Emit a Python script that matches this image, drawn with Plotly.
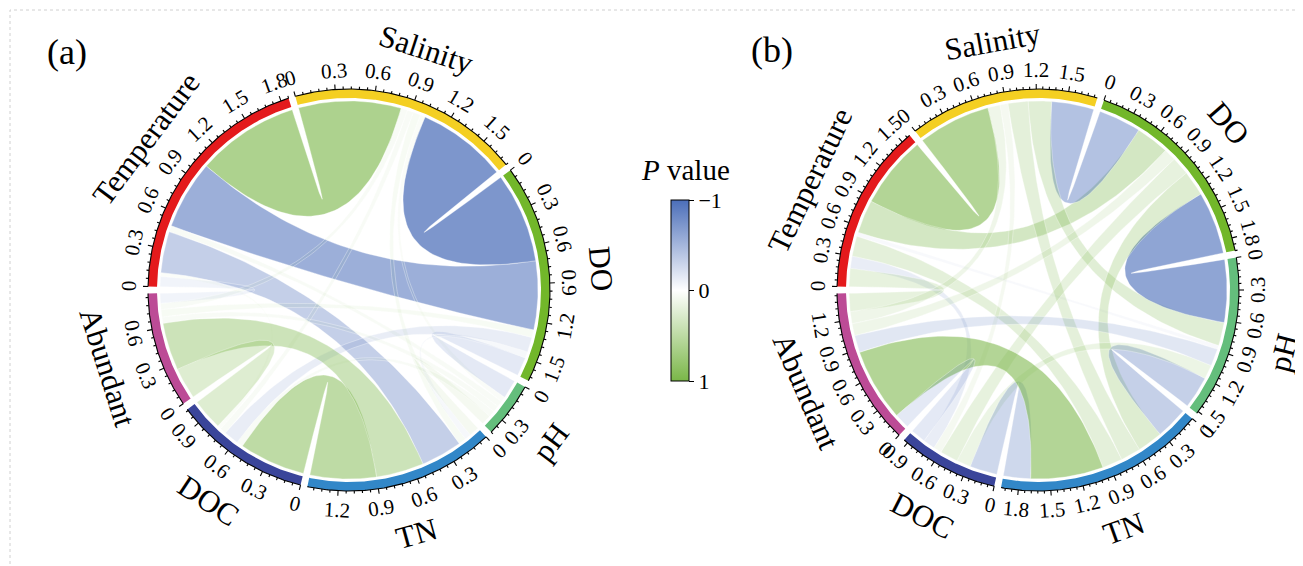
import numpy as np
import plotly.graph_objects as go

W, H = 1303, 566

# ---------------- data ----------------
sectors = ["Temperature", "Salinity", "DO", "pH", "TN", "DOC", "Abundant"]
sector_colors = ["#e41a1c", "#f4cf22", "#72b72a", "#64be7c", "#3287c8", "#3a459a", "#bc4b96"]

pairs = [("Temperature", "Salinity"), ("Temperature", "DO"), ("Temperature", "pH"),
         ("Temperature", "TN"), ("Temperature", "DOC"), ("Temperature", "Abundant"),
         ("Salinity", "DO"), ("Salinity", "pH"), ("Salinity", "TN"), ("Salinity", "DOC"),
         ("Salinity", "Abundant"), ("DO", "pH"), ("DO", "TN"), ("DO", "DOC"), ("DO", "Abundant"),
         ("pH", "TN"), ("pH", "DOC"), ("pH", "Abundant"), ("TN", "DOC"), ("TN", "Abundant"),
         ("DOC", "Abundant")]

# correlation values (panel a / panel b), same order as pairs
r_a = [0.82, -0.55, 0.05, -0.33, 0.03, -0.08,
       -0.72, 0.04, 0.06, 0.05, 0.05,
       -0.15, -0.05, -0.12, 0.06,
       0.08, 0.05, 0.05,
       0.53, 0.38,
       0.25]
r_b = [0.72, 0.33, -0.04, 0.20, -0.12, 0.18,
       -0.42, 0.23, 0.20, 0.08, 0.12,
       -0.62, 0.25, 0.18, 0.12,
       -0.32, 0.14, -0.17,
       -0.27, 0.72,
       -0.15]

panel_tags = ["(a)", "(b)"]
tick_step = 0.3
minor_per_major = 4
cbar_ticks = [-1, 0, 1]
cbar_ticktext = ["1", "0", "\u22121"]

# ---------------- style / layout constants ----------------
centers = [(341, 282), (1030, 282)]      # screen px
tag_pos = [(59, 44), (764, 42)]
R_OUT, R_IN, R_LINK = 201, 192, 189
TICK_MAJ, TICK_MIN = 5, 2.5
R_TLAB, R_NAME = 220, 253
GAP = 2.0
BLUE = (75, 110, 185)
GREEN = (122, 182, 72)
FONT = "Liberation Serif"

n = len(sectors)
idx = {s: i for i, s in enumerate(sectors)}

fig = go.Figure()
annotations = []


def P(cx, cy, r, th):
    t = np.deg2rad(th)
    return cx + r * np.cos(t), (H - cy) + r * np.sin(t)


def arc(cx, cy, r, th0, th1, k=None):
    if k is None:
        k = max(4, int(abs(th1 - th0) * 2) + 2)
    th = np.linspace(th0, th1, k)
    x, y = P(cx, cy, r, th)
    return list(x), list(y)


def bez(cx, cy, p0, p2, k=60):
    t = np.linspace(0, 1, k)
    c = (cx, H - cy)
    x = (1 - t) ** 2 * p0[0] + 2 * t * (1 - t) * c[0] + t ** 2 * p2[0]
    y = (1 - t) ** 2 * p0[1] + 2 * t * (1 - t) * c[1] + t ** 2 * p2[1]
    return list(x), list(y)


def readable(theta):
    phi = theta - 90
    phi = (phi + 180) % 360 - 180
    if phi > 90:
        phi -= 180
    elif phi <= -90:
        phi += 180
    return phi


def link_alpha(v):
    a = abs(v)
    if v > 0:
        return min(a, 0.25 + 0.45 * a)
    return min(1.0, a)


for p, vals in enumerate([r_a, r_b]):
    cx, cy = centers[p]
    M = np.zeros((n, n))
    for (a, b), v in zip(pairs, vals):
        M[idx[a], idx[b]] = v
        M[idx[b], idx[a]] = v
    totals = np.abs(M).sum(axis=1)
    unit = (360 - n * GAP) / totals.sum()
    starts = []
    a0 = 180 - GAP / 2
    for i in range(n):
        starts.append(a0)
        a0 -= totals[i] * unit + GAP

    # positions of links inside each sector
    pos = {}
    for i in range(n):
        u = 0.0
        for k in range(1, n):
            j = (i - k) % n
            w = abs(M[i, j])
            pos[(i, j)] = (u, u + w)
            u += w

    def ang(i, u):
        return starts[i] - u * unit

    # ribbons
    for (a, b), v in zip(pairs, vals):
        i, j = idx[a], idx[b]
        if abs(v) < 1e-9:
            continue
        u0, u1 = pos[(i, j)]
        v0, v1 = pos[(j, i)]
        xs, ys = arc(cx, cy, R_LINK, ang(i, u0), ang(i, u1))
        pA = P(cx, cy, R_LINK, ang(i, u1))
        pB = P(cx, cy, R_LINK, ang(j, v0))
        bx, by = bez(cx, cy, pA, pB)
        xs += bx; ys += by
        ax2, ay2 = arc(cx, cy, R_LINK, ang(j, v0), ang(j, v1))
        xs += ax2; ys += ay2
        pC = P(cx, cy, R_LINK, ang(j, v1))
        pD = P(cx, cy, R_LINK, ang(i, u0))
        bx, by = bez(cx, cy, pC, pD)
        xs += bx; ys += by
        col = BLUE if v < 0 else GREEN
        fill = "rgba(%d,%d,%d,%.3f)" % (col[0], col[1], col[2], link_alpha(v))
        fig.add_trace(go.Scatter(x=xs, y=ys, mode="lines", fill="toself", fillcolor=fill,
                                 line=dict(color="rgba(255,255,255,0.55)", width=0.6),
                                 hoverinfo="skip", showlegend=False))

    # tracks
    tx, ty = [], []
    for i in range(n):
        th0, th1 = starts[i], ang(i, totals[i])
        ox, oy = arc(cx, cy, R_OUT, th0, th1)
        ix, iy = arc(cx, cy, R_IN, th1, th0)
        fig.add_trace(go.Scatter(x=ox + ix + [ox[0]], y=oy + iy + [oy[0]], mode="lines",
                                 fill="toself", fillcolor=sector_colors[i],
                                 line=dict(width=0, color=sector_colors[i]),
                                 hoverinfo="skip", showlegend=False))
        # baseline
        bx, by = arc(cx, cy, R_OUT, th0, th1)
        tx += bx + [None]; ty += by + [None]
        # ticks
        step = tick_step / (minor_per_major + 1)
        m = 0
        while m * step <= totals[i] + 1e-9:
            th = ang(i, m * step)
            major = (m % (minor_per_major + 1) == 0)
            L = TICK_MAJ if major else TICK_MIN
            x0, y0 = P(cx, cy, R_OUT, th)
            x1, y1 = P(cx, cy, R_OUT + L, th)
            tx += [x0, x1, None]; ty += [y0, y1, None]
            if major:
                val = m * step
                lx, ly = P(cx, cy, R_TLAB, th)
                txt = "0" if m == 0 else ("%.1f" % val)
                annotations.append(dict(x=lx, y=ly, xref="x", yref="y", text=txt, showarrow=False,
                                        textangle=-readable(th), xanchor="center", yanchor="middle",
                                        font=dict(family=FONT, size=21, color="black")))
            m += 1
        # sector name
        mid = (th0 + th1) / 2
        nx, ny = P(cx, cy, R_NAME, mid)
        annotations.append(dict(x=nx, y=ny, xref="x", yref="y", text=sectors[i], showarrow=False,
                                textangle=-readable(mid), xanchor="center", yanchor="middle",
                                font=dict(family=FONT, size=31, color="black")))
    fig.add_trace(go.Scatter(x=tx, y=ty, mode="lines", line=dict(color="black", width=1.1),
                             hoverinfo="skip", showlegend=False))

    annotations.append(dict(x=tag_pos[p][0], y=H - tag_pos[p][1], xref="x", yref="y",
                            text=panel_tags[p], showarrow=False, xanchor="center", yanchor="middle",
                            font=dict(family=FONT, size=36, color="black")))

# colour bar
cscale = [[0, "rgb(%d,%d,%d)" % GREEN], [0.5, "rgb(255,255,255)"], [1, "rgb(%d,%d,%d)" % BLUE]]
fig.add_trace(go.Scatter(x=[None], y=[None], mode="markers", hoverinfo="skip", showlegend=False,
                         marker=dict(color=[0], colorscale=cscale, cmin=-1, cmax=1, showscale=True,
                                     colorbar=dict(x=663 / W, xanchor="left", xpad=0, ypad=0,
                                                   y=1 - 282.5 / H, yanchor="middle",
                                                   len=181, lenmode="pixels", thickness=18,
                                                   outlinecolor="black", outlinewidth=1,
                                                   tickvals=cbar_ticks, ticktext=cbar_ticktext,
                                                   ticks="outside", ticklen=5, tickcolor="black",
                                                   tickfont=dict(family=FONT, size=22, color="black")))))
annotations.append(dict(x=677, y=H - 162, xref="x", yref="y", text="<i>P</i> value", showarrow=False,
                        xanchor="center", yanchor="middle", font=dict(family=FONT, size=29, color="black")))

fig.update_layout(
    width=W, height=H, margin=dict(l=0, r=0, t=0, b=0),
    paper_bgcolor="white", plot_bgcolor="white",
    xaxis=dict(range=[0, W], visible=False, fixedrange=True),
    yaxis=dict(range=[0, H], visible=False, fixedrange=True),
    annotations=annotations,
    shapes=[dict(type="rect", xref="x", yref="y", x0=2, y0=3, x1=W - 3, y1=H - 2,
                 line=dict(color="#d0d0d0", width=1, dash="dot"))],
)

fig.write_html("out.html")
